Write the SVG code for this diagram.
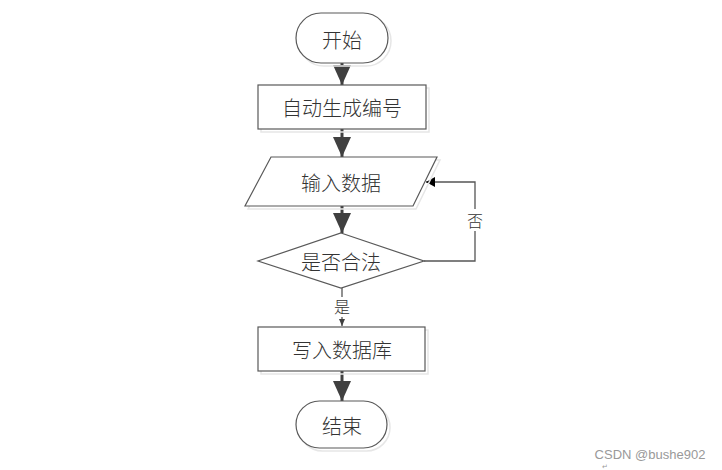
<svg xmlns="http://www.w3.org/2000/svg" width="722" height="470" viewBox="0 0 722 470">
<style>
.shape{fill:#fff;stroke:#595959;stroke-width:1.2}
.shadow{fill:none;stroke:#e6e6e6;stroke-width:1.5}
.t{font-family:"Noto Sans CJK SC","Liberation Serif",serif;font-size:20px;font-weight:300;fill:#333;text-anchor:middle;dominant-baseline:central}
.lbl{font-family:"Noto Sans CJK SC","Liberation Serif",serif;font-size:16px;font-weight:300;fill:#333;text-anchor:middle;dominant-baseline:central}
.flow{stroke:#404040;stroke-width:3;fill:none}
.thin{stroke:#555;stroke-width:1.3;fill:none}
</style>
<defs>
<marker id="big" markerWidth="22" markerHeight="22" viewBox="0 0 22 22" refX="20" refY="11" orient="auto" markerUnits="userSpaceOnUse">
<path d="M0,2 L20,11 L0,20 Z" fill="#404040"/>
</marker>
<marker id="small" markerWidth="10" markerHeight="10" viewBox="0 0 10 10" refX="9" refY="5" orient="auto" markerUnits="userSpaceOnUse">
<path d="M0,0 L9,5 L0,10 Z" fill="#000"/>
</marker>
<marker id="tiny" markerWidth="8" markerHeight="8" viewBox="0 0 8 8" refX="7" refY="4" orient="auto" markerUnits="userSpaceOnUse">
<path d="M0,1 L7,4 L0,7 Z" fill="#404040"/>
</marker>
</defs>
<rect width="722" height="470" fill="#fff"/>
<g id="connectors">
<line class="flow" x1="342" y1="63" x2="342" y2="85" marker-end="url(#big)"/>
<line class="flow" x1="342" y1="129" x2="342" y2="157" marker-end="url(#big)"/>
<line class="flow" x1="342" y1="206" x2="342" y2="233" marker-end="url(#big)"/>
<line class="thin" x1="342" y1="288" x2="342" y2="326" marker-end="url(#tiny)"/>
<line class="flow" x1="342" y1="371" x2="342" y2="401" marker-end="url(#big)"/>
<polyline class="thin" points="424,261 475,261 475,182 426,182" marker-end="url(#small)"/>
<rect x="466" y="209" width="18" height="22" fill="#fff"/>
<text class="lbl" x="475" y="220">否</text>
<rect x="333" y="297" width="18" height="20" fill="#fff"/>
<text class="lbl" x="342" y="306">是</text>
</g>
<g id="start">
<rect class="shadow" x="299" y="16" width="92" height="50" rx="25"/>
<rect class="shape" x="296" y="13" width="92" height="50" rx="25"/>
<text class="t" x="342" y="39">开始</text>
</g>
<g id="autogen">
<rect class="shadow" x="261" y="88" width="168" height="44"/>
<rect class="shape" x="258" y="85" width="168" height="44"/>
<text class="t" x="342" y="107">自动生成编号</text>
</g>
<g id="input">
<polygon class="shadow" points="274,160 440,160 416,209 248,209"/>
<polygon class="shape" points="271,157 437,157 413,206 245,206"/>
<text class="t" x="341" y="182">输入数据</text>
</g>
<g id="check">
<polygon class="shape" points="341,233 424,261 341,288 258,261"/>
<text class="t" x="341" y="261">是否合法</text>
</g>
<g id="write">
<rect class="shadow" x="261" y="330" width="167" height="44"/>
<rect class="shape" x="258" y="327" width="167" height="44"/>
<text class="t" x="342" y="349">写入数据库</text>
</g>
<g id="end">
<rect class="shadow" x="299" y="404" width="91" height="47" rx="23.5"/>
<rect class="shape" x="296" y="401" width="91" height="47" rx="23.5"/>
<text class="t" x="342" y="425">结束</text>
</g>
<text x="650" y="454" font-family="Liberation Sans, Arial, sans-serif" font-size="13" fill="#999" text-anchor="middle" dominant-baseline="central">CSDN @bushe902</text>
<text x="605" y="467" font-family="DejaVu Sans, sans-serif" font-size="7" fill="#999" text-anchor="middle" dominant-baseline="central">↵</text>
</svg>
